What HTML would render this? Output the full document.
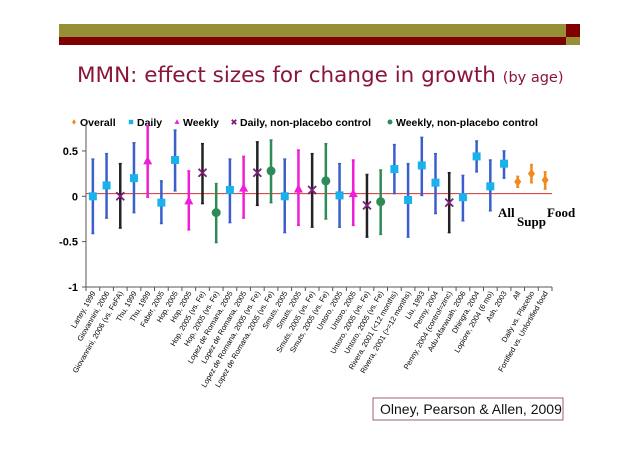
<!DOCTYPE html>
<html><head><meta charset="utf-8"><style>
body{margin:0;background:#fff;}
svg{display:block;font-family:"Liberation Sans",Arial,sans-serif;}
</style></head><body>
<svg id="chart" width="638" height="451" viewBox="0 0 638 451">
<rect x="59" y="24" width="507" height="13" fill="#968f35"/>
<rect x="59" y="37" width="507" height="8" fill="#800000"/>
<rect x="566" y="24" width="14" height="13" fill="#800000"/>
<rect x="566" y="37" width="14" height="8" fill="#968f35"/>
<text x="77" y="82" font-size="21.5" fill="#8b1538" font-family="DejaVu Sans, Liberation Sans, sans-serif">MMN: effect sizes for change in growth <tspan font-size="14.5">(by age)</tspan></text>
<g id="legend" font-size="10.5" font-weight="bold" fill="#000"></g>
<g id="plot"></g>
<text x="498" y="217" font-family="Liberation Serif,serif" font-weight="bold" font-size="13">All</text>
<text x="517" y="226" font-family="Liberation Serif,serif" font-weight="bold" font-size="13">Supp</text>
<text x="547" y="217" font-family="Liberation Serif,serif" font-weight="bold" font-size="13">Food</text>
<rect x="373" y="398" width="190" height="22" fill="#fff" stroke="#a06070" stroke-width="1"/>
<text x="380" y="414" font-size="14" fill="#111">Olney, Pearson &amp; Allen, 2009</text>
</svg>
<script>
const categories=["Lartey, 1999","Giovannini, 2006","Giovannini, 2006 (vs. FeFA)","Thu, 1999","Thu, 1999","Faber, 2005","Hop, 2005","Hop, 2005","Hop, 2005 (vs. Fe)","Hop, 2005 (vs. Fe)","Lopez de Romana, 2005","Lopez de Romana, 2005","Lopez de Romana, 2005 (vs. Fe)","Lopez de Romana, 2005 (vs. Fe)","Smuts, 2005","Smuts, 2005","Smuts, 2005 (vs. Fe)","Smuts, 2005 (vs. Fe)","Untoro, 2005","Untoro, 2005","Untoro, 2005 (vs. Fe)","Untoro, 2005 (vs. Fe)","Rivera, 2001 (<12 months)","Rivera, 2001 (>=12 months)","Liu, 1993","Penny, 2004","Penny, 2004 (control=zinc)","Adu-Afarwuah, 2006","Dhingra, 2004","Lopiore, 2004 (6 mo)","Ash, 2003","All","Daily vs. Placebo","Fortified vs. Unfortified food"];
const groups=["D","D","X","D","W","D","D","W","X","G","D","W","X","G","D","W","X","G","D","W","X","G","D","D","D","D","X","D","D","D","D","O","O","O"];
const effect=[0,0.12,0,0.20,0.39,-0.07,0.40,-0.05,0.26,-0.18,0.07,0.09,0.26,0.28,0,0.08,0.07,0.17,0.01,0.03,-0.10,-0.06,0.30,-0.04,0.34,0.15,-0.07,-0.01,0.44,0.11,0.36,0.16,0.25,0.18];
const upper=[0.41,0.47,0.36,0.59,0.78,0.17,0.73,0.28,0.58,0.14,0.41,0.44,0.60,0.62,0.41,0.51,0.47,0.58,0.36,0.40,0.24,0.29,0.57,0.36,0.65,0.47,0.26,0.23,0.61,0.40,0.50,0.22,0.35,0.27];
const lower=[-0.41,-0.24,-0.35,-0.18,-0.01,-0.30,0.06,-0.37,-0.08,-0.51,-0.29,-0.24,-0.10,-0.07,-0.40,-0.32,-0.34,-0.25,-0.34,-0.32,-0.45,-0.42,0.03,-0.45,0.01,-0.19,-0.40,-0.27,0.27,-0.16,0.20,0.10,0.15,0.08];
const yTicks=[0.5,0,-0.5,-1];
const yTickLabels=["0.5","0","-0.5","-1"];
const legendNames=["Overall","Daily","Weekly","Daily, non-placebo control","Weekly, non-placebo control"];
const legendKeys=["O","D","W","X","G"];

const NS="http://www.w3.org/2000/svg";
const X0=86,X1=552,Y0=196.3,PU=90.7;
const step=(X1-X0)/categories.length;
function xS(i){return X0+step*(i+0.5);}
function yS(v){return Y0-v*PU;}
const barCol={D:"#3a5fcd",W:"#ee1fd8",X:"#222",G:"#2e8b57",O:"#f08a1c"};
const plot=document.getElementById('plot');
function mk(tag,attrs,parent){const e=document.createElementNS(NS,tag);for(const k in attrs)e.setAttribute(k,attrs[k]);(parent||plot).appendChild(e);return e;}
function marker(g,x,y,parent,s){
  s=s||1;let e;
  if(g==="D"){e=mk('rect',{x:x-4*s,y:y-4*s,width:8*s,height:8*s,fill:"#19b2ea"},parent);}
  else if(g==="W"){e=mk('polygon',{points:`${x},${y-5*s} ${x-4.5*s},${y+3.5*s} ${x+4.5*s},${y+3.5*s}`,fill:"#ee1fd8"},parent);}
  else if(g==="X"){e=mk('path',{d:`M${x-4*s},${y-4*s}L${x+4*s},${y+4*s}M${x+4*s},${y-4*s}L${x-4*s},${y+4*s}`,stroke:"#7a1f7a","stroke-width":1.8,fill:"none"},parent);}
  else if(g==="G"){e=mk('circle',{cx:x,cy:y,r:4.5*s,fill:"#2e8b57"},parent);}
  else {e=mk('path',{d:`M${x},${y-5*s}L${x+3.5*s},${y}L${x},${y+5*s}L${x-3.5*s},${y}Z`,fill:"#f08a1c"},parent);}
  return e;
}
let ax=mk('line',{x1:X0,y1:123,x2:X0,y2:yS(-1),stroke:"#555","stroke-width":1});


let bx=mk('line',{x1:X0,y1:yS(-1),x2:X1,y2:yS(-1),stroke:"#555","stroke-width":1});


yTicks.forEach((v,i)=>{
  let t=mk('line',{x1:X0-4,y1:yS(v),x2:X0,y2:yS(v),stroke:"#555"});
  
  
  let l=mk('text',{x:X0-8,y:yS(v)+4,"text-anchor":"end","font-size":11,"font-weight":"bold"});
  l.textContent=yTickLabels[i];
  
  
});
let zl=mk('line',{x1:X0,y1:yS(0.03),x2:X1,y2:yS(0.03),stroke:"#d83030","stroke-width":1});


for(let i=0;i<=categories.length;i++){
  let t=mk('line',{x1:X0+step*i,y1:yS(-1),x2:X0+step*i,y2:yS(-1)+4,stroke:"#555"});
  
  
}
categories.forEach((c,i)=>{
  const x=xS(i),y=yS(-1)+6;
  let l=mk('text',{x:x+3,y:y,"text-anchor":"end","font-size":7.5,transform:`rotate(-60 ${x+3} ${y})`});
  l.textContent=c;
  
  
});
categories.forEach((c,i)=>{
  const g=groups[i],x=xS(i);
  const grp=mk('g',{});
  
  
  mk('line',{x1:x,y1:yS(upper[i]),x2:x,y2:yS(lower[i]),stroke:barCol[g],"stroke-width":2.5},grp);
  mk('line',{x1:x-1.5,y1:yS(upper[i]),x2:x+1.5,y2:yS(upper[i]),stroke:barCol[g],"stroke-width":1.5},grp);
  mk('line',{x1:x-1.5,y1:yS(lower[i]),x2:x+1.5,y2:yS(lower[i]),stroke:barCol[g],"stroke-width":1.5},grp);
  marker(g,x,yS(effect[i]),grp);
});
const leg=document.getElementById('legend');
const legX=[74,131,177,234,390];
legendNames.forEach((n,i)=>{
  const g=mk('g',{},leg);
  
  
  marker(legendKeys[i],legX[i],122,g,0.55);
  const t=mk('text',{x:legX[i]+6,y:126},g);
  t.textContent=n;
});
</script>
</body></html>
